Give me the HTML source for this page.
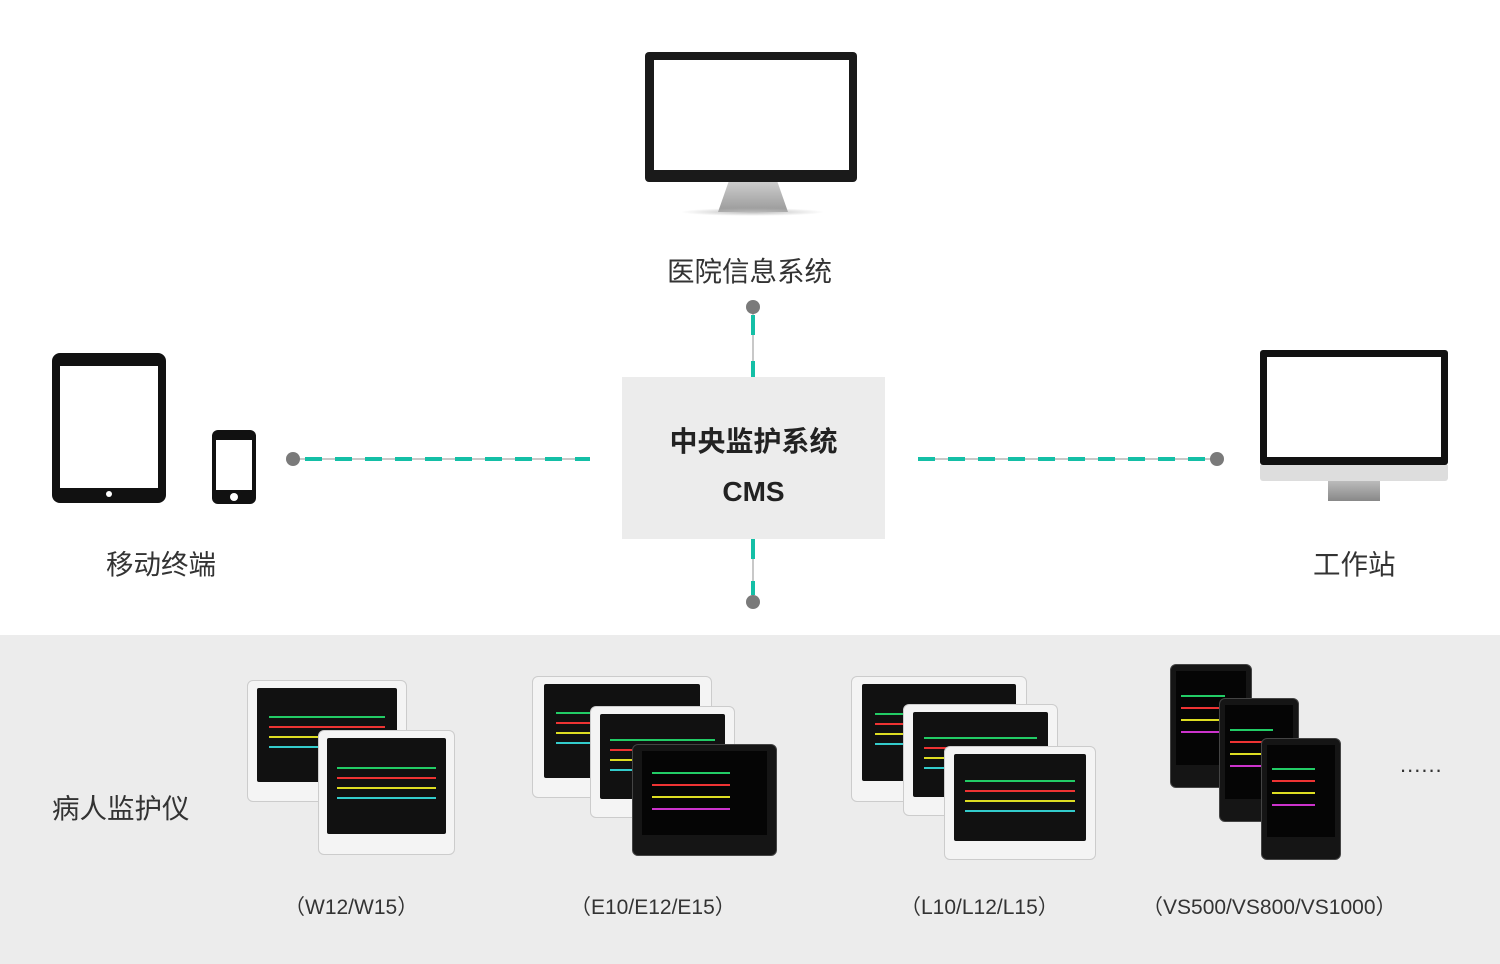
<!DOCTYPE html>
<html><head><meta charset="utf-8"><style>
*{margin:0;padding:0;box-sizing:border-box}
body{width:1500px;height:964px;position:relative;background:#fff;font-family:"Liberation Sans","Noto Sans CJK SC",sans-serif;overflow:hidden}
.a{position:absolute}
.t{position:absolute;font-size:27.5px;color:#333;white-space:nowrap}
.b{position:absolute;font-size:21px;color:#333;white-space:nowrap}
.m{position:absolute;background:#f4f4f4;border:1px solid #ccc;border-radius:6px}
.m .s{position:absolute;left:6%;top:6%;right:6%;bottom:16%;background:#111;border-radius:2px;overflow:hidden}
.m .s:before{content:"";position:absolute;left:8%;right:8%;top:30%;height:2px;background:#2c6;box-shadow:0 10px 0 #e33,0 20px 0 #dd2,0 30px 0 #3cc}
.k{position:absolute;background:#151515;border-radius:6px;border:1px solid #444}
.k .s{position:absolute;left:6%;top:5%;right:6%;bottom:18%;background:#050505;overflow:hidden}
.k .s:before{content:"";position:absolute;left:8%;right:30%;top:25%;height:2px;background:#2c6;box-shadow:0 12px 0 #e33,0 24px 0 #dd2,0 36px 0 #c3c}
</style></head><body>
<div class="a" style="left:645px;top:52px;width:212px;height:130px;background:#1a1a1a;border-radius:4px"></div>
<div class="a" style="left:654px;top:60px;width:195px;height:110px;background:#fff"></div>
<div class="a" style="left:718px;top:182px;width:70px;height:30px;background:linear-gradient(#ccc,#999);clip-path:polygon(15% 0,85% 0,100% 100%,0 100%)"></div>
<div class="a" style="left:680px;top:208px;width:145px;height:8px;background:radial-gradient(ellipse,#bbb,transparent 70%)"></div>
<div class="t" style="left:667px;top:249px">医院信息系统</div>
<div class="a" style="left:52px;top:353px;width:114px;height:150px;background:#111;border-radius:8px"></div>
<div class="a" style="left:60px;top:366px;width:98px;height:122px;background:#fff"></div>
<div class="a" style="left:106px;top:491px;width:6px;height:6px;background:#fff;border-radius:50%"></div>
<div class="a" style="left:212px;top:430px;width:44px;height:74px;background:#111;border-radius:6px"></div>
<div class="a" style="left:216px;top:440px;width:36px;height:50px;background:#fff"></div>
<div class="a" style="left:230px;top:493px;width:8px;height:8px;background:#fff;border-radius:50%"></div>
<div class="t" style="left:106px;top:542px">移动终端</div>
<div class="a" style="left:1260px;top:350px;width:188px;height:115px;background:#111;border-radius:3px"></div>
<div class="a" style="left:1267px;top:357px;width:174px;height:100px;background:#fff"></div>
<div class="a" style="left:1260px;top:465px;width:188px;height:16px;background:#ddd;border-radius:0 0 3px 3px"></div>
<div class="a" style="left:1328px;top:481px;width:52px;height:20px;background:linear-gradient(#bbb,#888)"></div>
<div class="t" style="left:1313px;top:542px">工作站</div>
<svg class="a" style="left:0;top:0" width="1500" height="964">
<g stroke="#c8c8c8" stroke-width="2"><line x1="293" y1="459" x2="590" y2="459"/><line x1="918" y1="459" x2="1217" y2="459"/><line x1="753" y1="307" x2="753" y2="377"/><line x1="753" y1="539" x2="753" y2="602"/></g>
<g stroke="#14bfa6" stroke-width="4"><line x1="305" y1="459" x2="590" y2="459" stroke-dasharray="17,13"/><line x1="918" y1="459" x2="1210" y2="459" stroke-dasharray="17,13"/><line x1="753" y1="315" x2="753" y2="377" stroke-dasharray="20,26"/><line x1="753" y1="539" x2="753" y2="595" stroke-dasharray="20,22"/></g>
<g fill="#7a7a7a"><circle cx="293" cy="459" r="7"/><circle cx="1217" cy="459" r="7"/><circle cx="753" cy="307" r="7"/><circle cx="753" cy="602" r="7"/></g>
</svg>
<div class="a" style="left:622px;top:377px;width:263px;height:162px;background:#ececec"></div>
<div class="a" style="left:622px;top:417px;width:263px;text-align:center;font-size:28px;font-weight:bold;color:#222;line-height:50px">中央监护系统<br>CMS</div>
<div class="a" style="left:0;top:635px;width:1500px;height:329px;background:#ececec"></div>
<div class="t" style="left:52px;top:786px">病人监护仪</div>
<div class="m" style="left:247px;top:680px;width:160px;height:122px"><div class="s"></div></div>
<div class="m" style="left:318px;top:730px;width:137px;height:125px"><div class="s"></div></div>
<div class="m" style="left:532px;top:676px;width:180px;height:122px"><div class="s"></div></div>
<div class="m" style="left:590px;top:706px;width:145px;height:112px"><div class="s"></div></div>
<div class="k" style="left:632px;top:744px;width:145px;height:112px"><div class="s"></div></div>
<div class="m" style="left:851px;top:676px;width:176px;height:126px"><div class="s"></div></div>
<div class="m" style="left:903px;top:704px;width:155px;height:112px"><div class="s"></div></div>
<div class="m" style="left:944px;top:746px;width:152px;height:114px"><div class="s"></div></div>
<div class="k" style="left:1170px;top:664px;width:82px;height:124px"><div class="s"></div></div>
<div class="k" style="left:1219px;top:698px;width:80px;height:124px"><div class="s"></div></div>
<div class="k" style="left:1261px;top:738px;width:80px;height:122px"><div class="s"></div></div>
<div class="t" style="left:1400px;top:752px;font-size:22px;letter-spacing:1px">......</div>
<div class="b" style="left:284px;top:891px">（W12/W15）</div>
<div class="b" style="left:570px;top:891px">（E10/E12/E15）</div>
<div class="b" style="left:900px;top:891px">（L10/L12/L15）</div>
<div class="b" style="left:1142px;top:891px">（VS500/VS800/VS1000）</div>
</body></html>
